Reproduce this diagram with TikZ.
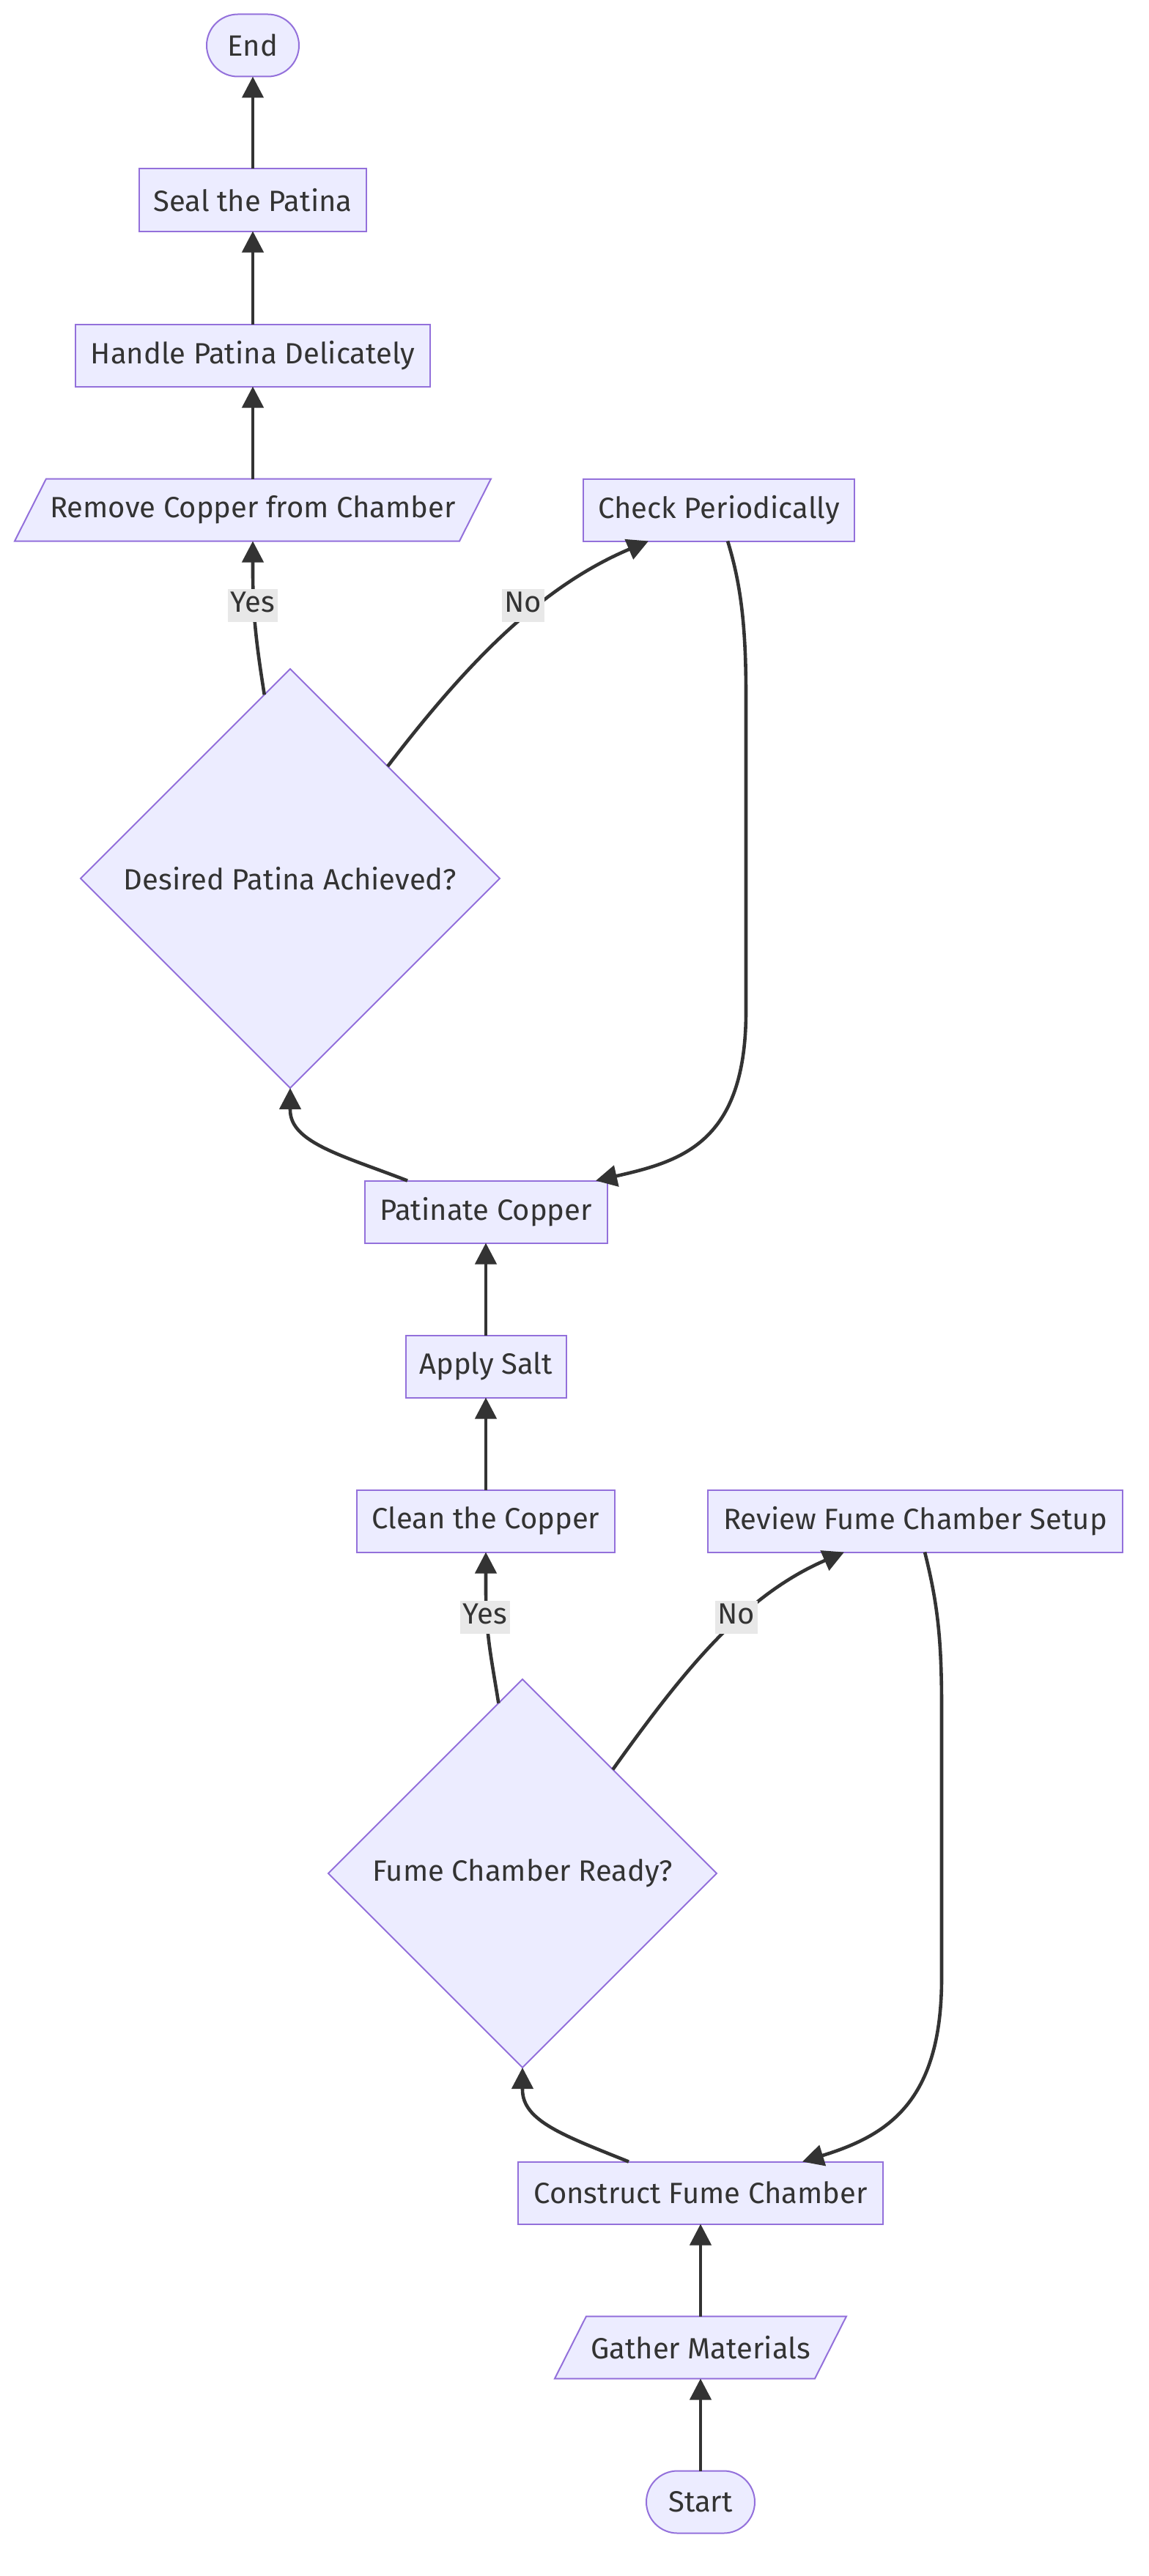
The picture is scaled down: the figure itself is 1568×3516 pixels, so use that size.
\documentclass[tikz,border=0pt]{standalone}
\usepackage{fontspec}
\setmainfont{Fira Sans}
\usetikzlibrary{arrows.meta,shapes.geometric,shapes.misc,calc}
\definecolor{nodefill}{HTML}{ECECFF}
\definecolor{nodeline}{HTML}{9370DB}
\definecolor{edgeline}{HTML}{333333}
\definecolor{txt}{HTML}{333333}
\definecolor{lblbg}{HTML}{E8E8E8}

\begin{document}
\begin{tikzpicture}[x=0.5pt,y=-0.5pt,
  every node/.style={font=\fontsize{20pt}{24pt}\selectfont, text=txt},
  box/.style={draw=nodeline, fill=nodefill, line width=1pt, rectangle,
    minimum height=42.5pt, inner sep=0pt, outer sep=0pt},
  term/.style={draw=nodeline, fill=nodefill, line width=1pt, rounded rectangle,
    minimum height=42.5pt, inner sep=0pt, outer sep=0pt},
  decision/.style={draw=nodeline, fill=nodefill, line width=1pt, diamond,
    inner sep=0pt, outer sep=0pt},
  plain/.style={rectangle, minimum height=42.5pt, inner sep=0pt, outer sep=0pt},
  paraframe/.style={draw=nodeline, fill=nodefill, line width=1pt},
  flow/.style={draw=edgeline, line width=2.3pt,
    -{Triangle[length=14.5pt,width=14.5pt]}},
  elabel/.style={fill=lblbg, inner xsep=2pt, inner ysep=1pt,
    text height=15pt, text depth=5.5pt}
]
\useasboundingbox (0,0) rectangle (1568,3516);

% ---- upper column ----
\node[term, minimum width=63pt] (end) at (345,62) {End};
\node[box, minimum width=155pt] (seal) at (345,273) {Seal the Patina};
\node[box, minimum width=242pt] (handle) at (345,485) {Handle Patina Delicately};

\coordinate (remc) at (345,696);
\filldraw[paraframe] ($(remc)+(-325,42.5)$) -- ($(remc)+(282,42.5)$)
  -- ($(remc)+(325,-42.5)$) -- ($(remc)+(-282,-42.5)$) -- cycle;
\node[plain, minimum width=300pt] (rem) at (remc) {Remove Copper from Chamber};

\node[box, minimum width=185pt] (check) at (981,696) {Check Periodically};
\node[decision, minimum width=286pt, minimum height=286pt] (dpa) at (396,1199)
  {Desired Patina Achieved?};

% ---- middle column ----
\node[box, minimum width=165.5pt] (pat) at (663,1654) {Patinate Copper};
\node[box, minimum width=109.5pt] (salt) at (663,1865) {Apply Salt};
\node[box, minimum width=176pt] (clean) at (663,2076) {Clean the Copper};
\node[box, minimum width=283pt] (review) at (1249,2076) {Review Fume Chamber Setup};
\node[decision, minimum width=265pt, minimum height=265pt] (fcr) at (713,2557)
  {Fume Chamber Ready?};

% ---- lower column ----
\node[box, minimum width=249pt] (build) at (956,2993) {Construct Fume Chamber};

\coordinate (gatc) at (956,3204);
\filldraw[paraframe] ($(gatc)+(-199,42.5)$) -- ($(gatc)+(156,42.5)$)
  -- ($(gatc)+(199,-42.5)$) -- ($(gatc)+(-156,-42.5)$) -- cycle;
\node[plain, minimum width=150pt] (gather) at (gatc) {Gather Materials};

\node[term, minimum width=74pt] (start) at (956,3415) {Start};

% ---- connectors ----
\draw[flow] (start.north) -- (gather.south);
\draw[flow] (gather.north) -- (build.south);
\draw[flow] ($(build.north)+(-98,0)$)
  .. controls ($(build.north)+(-186,-35.5)$) and ($(fcr.south)+(0,73)$)
  .. ($(fcr.south)+(0,30)$) -- (fcr.south);
\draw[flow] (fcr.98)
  .. controls ($(clean.south)+(7,141.5)$) and ($(clean.south)+(0,111.5)$)
  .. ($(clean.south)+(0,51.5)$) -- (clean.south);
\draw[flow] (fcr.49)
  .. controls ($(fcr.49)+(100,-140)$) and ($(review.south)+(-232,58.5)$)
  .. ($(review.south)+(-97,0)$);
\draw[flow] ($(review.south)+(13,0)$)
  .. controls ($(review.south)+(31,71.5)$) and (1285,2240) .. (1285,2330)
  -- (1285,2700)
  .. controls (1285,2870) and (1210,2915) .. ($(build.north)+(139,0)$);
\draw[flow] (clean.north) -- (salt.south);
\draw[flow] (salt.north) -- (pat.south);
\draw[flow] ($(pat.north)+(-107,0)$)
  .. controls ($(pat.north)+(-193,-33.5)$) and ($(dpa.south)+(0,75)$)
  .. ($(dpa.south)+(0,30)$) -- (dpa.south);
\draw[flow] ($(check.south)+(12,0)$)
  .. controls ($(check.south)+(31,61.5)$) and (1018,860) .. (1018,950)
  -- (1018,1380)
  .. controls (1018,1560) and (930,1585) .. ($(pat.north)+(150,0)$);
\draw[flow] (dpa.98)
  .. controls ($(rem.south)+(5,141.5)$) and ($(rem.south)+(0,101.5)$)
  .. ($(rem.south)+(0,41.5)$) -- (rem.south);
\draw[flow] (dpa.49)
  .. controls ($(dpa.49)+(111,-145)$) and ($(check.south)+(-241,61.5)$)
  .. ($(check.south)+(-96,0)$);
\draw[flow] (rem.north) -- (handle.south);
\draw[flow] (handle.north) -- (seal.south);
\draw[flow] (seal.north) -- (end.south);

% ---- branch labels ----
\node[elabel] (lyesa) at (345,826) {Yes};
\node[elabel] (lnoa) at (714,826) {No};
\node[elabel] (lyesb) at (662,2207) {Yes};
\node[elabel] (lnob) at (1005,2207) {No};
\end{tikzpicture}
\end{document}
